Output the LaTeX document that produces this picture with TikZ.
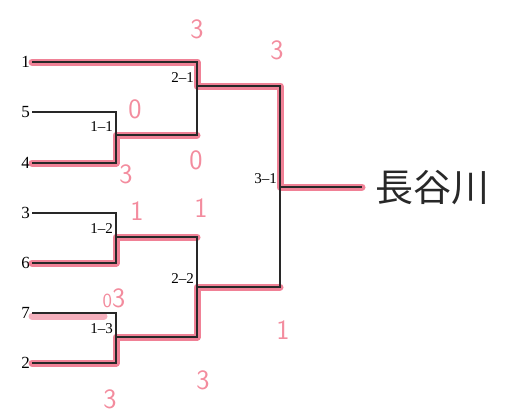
\documentclass[tikz,border=0pt]{standalone}
\usepackage{fontspec}
\setmainfont{Liberation Serif}
\newfontfamily\jpfont{Noto Sans CJK JP}
\usetikzlibrary{positioning}
\definecolor{marker}{RGB}{236,98,124}
\definecolor{score}{RGB}{243,140,158}
\definecolor{ink}{RGB}{40,40,40}
\tikzset{
  line/.style={line width=1.5pt, ink},
  hl/.style={line width=7pt, marker, opacity=0.8, line cap=round, line join=round},
  seed/.style={anchor=east, inner sep=2pt, font=\fontsize{17}{17}\selectfont},
  match/.style={anchor=south east, inner sep=1pt, font=\fontsize{15}{15}\selectfont},
  pts/.style={text=score, inner sep=0pt, font=\fontsize{28}{28}\sffamily},
}
\begin{document}
\begin{tikzpicture}[x=1pt, y=-1pt]
			\useasboundingbox (0,0) rectangle (505,416);

			% Seeds
			\foreach \s/\y in {1/62, 5/112, 4/163, 3/213, 6/263, 7/313, 2/363}
					\node[seed] (s\s) at (32,\y) {\s};

			% Round 1
			\coordinate (t11) at (116,112); \coordinate (o11) at (116,135); \coordinate (b11) at (116,163);
			\coordinate (t12) at (116,213); \coordinate (o12) at (116,237); \coordinate (b12) at (116,263);
			\coordinate (t13) at (116,313); \coordinate (o13) at (116,337); \coordinate (b13) at (116,363);
			% Round 2
			\coordinate (t21) at (197,62);  \coordinate (o21) at (197,86);  \coordinate (b21) at (197,135);
			\coordinate (t22) at (197,237); \coordinate (o22) at (197,287); \coordinate (b22) at (197,337);
			% Final
			\coordinate (t31) at (280,86);  \coordinate (o31) at (280,187); \coordinate (b31) at (280,287);
			\coordinate (fin) at (362,187);

			% Marker
			\draw[hl] (s1.east) -- (t21) -- (o21) -- (t31) -- (o31) -- (fin);
			\draw[hl] (s4.east) -- (b11) -- (o11) -- (b21);
			\draw[hl] (s6.east) -- (b12) -- (o12) -- (t22);
			\draw[hl] (s2.east) -- (b13) -- (o13) -- (b22) -- (o22) -- (b31);
			\draw[hl, opacity=0.5] ([shift={(0,3)}]s7.east) -- ([shift={(-12,3)}]t13);

			% Bracket
			\draw[line] (s5.east) -- (t11) -- (b11) -- (s4.east);
			\draw[line] (s3.east) -- (t12) -- (b12) -- (s6.east);
			\draw[line] (s7.east) -- (t13) -- (b13) -- (s2.east);
			\draw[line] (s1.east) -- (t21) -- (b21) -- (o11);
			\draw[line] (o12) -- (t22) -- (b22) -- (o13);
			\draw[line] (o21) -- (t31) -- (b31) -- (o22);
			\draw[line] (o31) -- (fin);

			% Match numbers
			\node[match] (m11) at ([shift={(-2,-2)}]o11) {1--1};
			\node[match] (m12) at ([shift={(-2,-2)}]o12) {1--2};
			\node[match] (m13) at ([shift={(-2,-2)}]o13) {1--3};
			\node[match] (m21) at ([shift={(-2,-2)}]o21) {2--1};
			\node[match] (m22) at ([shift={(-2,-2)}]o22) {2--2};
			\node[match] (m31) at ([shift={(-2,-2)}]o31) {3--1};

			% Scores
			\node[pts] (p11a) at (135,109) {0};
			\node[pts] (p11b) at (126,174) {3};
			\node[pts] (p12a) at (137,211) {1};
			\node[pts] (p13a) at (114,298) {{\fontsize{20}{20}\selectfont 0}3};
			\node[pts] (p13b) at (110,399) {3};
			\node[pts] (p21a) at (197,29) {3};
			\node[pts] (p21b) at (196,160) {0};
			\node[pts] (p22a) at (201,208) {1};
			\node[pts] (p22b) at (203,380) {3};
			\node[pts] (p31a) at (277,50) {3};
			\node[pts] (p31b) at (283,330) {1};

			% Winner
			\node[anchor=west, inner sep=0pt, text=ink, font=\jpfont\fontsize{38}{38}\selectfont] (win) at (375,188) {長谷川};
		\end{tikzpicture}
\end{document}
